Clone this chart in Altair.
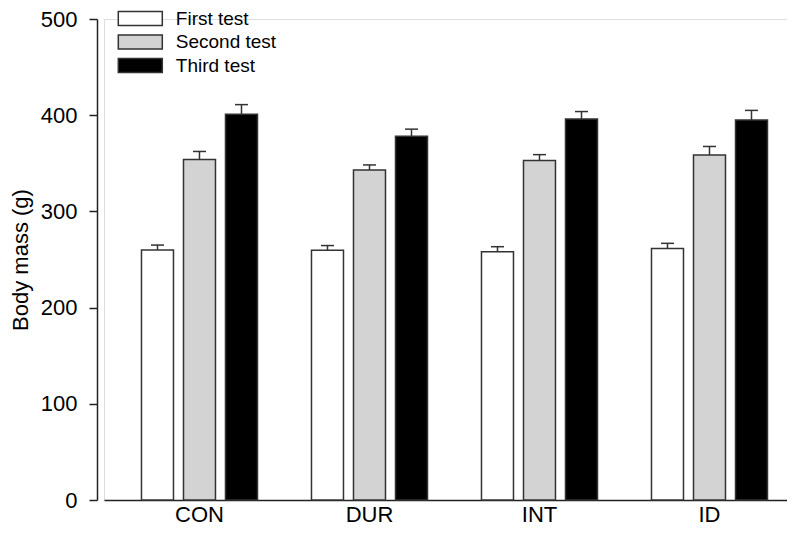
import altair as alt
import pandas as pd

groups = ["CON", "DUR", "INT", "ID"]
tests = ["First test", "Second test", "Third test"]
first_mean = [260, 259.5, 258, 261.5]
second_mean = [354, 343, 353, 358.5]
third_mean = [401, 378, 396, 395]
first_se = [5, 5, 5.3, 5.3]
second_se = [8.3, 5.3, 6, 9]
third_se = [10, 7.5, 7.8, 10]
fill_colors = ["#ffffff", "#d3d3d3", "#000000"]
y_ticks = [0, 100, 200, 300, 400, 500]

rows = []
for t, means, ses in zip(tests, [first_mean, second_mean, third_mean],
                         [first_se, second_se, third_se]):
    for g, m, s in zip(groups, means, ses):
        rows.append({"group": g, "test": t, "mass": m, "top": m + s})
df = pd.DataFrame(rows)

FONT = "Liberation Sans"
INK = "#333333"

x = alt.X(
    "group:N", sort=groups,
    scale=alt.Scale(paddingInner=0.2, paddingOuter=0.1088, align=0.743),
    axis=alt.Axis(title=None, ticks=False, labelAngle=0, labelFontSize=22,
                  labelPadding=4, domainColor="#222222", domainWidth=1.5,
                  labelColor="#000000", labelFont=FONT),
)
xo = alt.XOffset("test:N", sort=tests,
                 scale=alt.Scale(paddingInner=0.2381, paddingOuter=0.238))
y_scale = alt.Scale(domain=[0, 500], nice=False)

bars = alt.Chart(df).mark_bar(stroke=INK, strokeWidth=1.5).encode(
    x=x,
    xOffset=xo,
    y=alt.Y("mass:Q", scale=y_scale,
            axis=alt.Axis(title="Body mass (g)", values=y_ticks, grid=False,
                          offset=7, tickSize=8, tickWidth=1.5,
                          tickColor="#222222", domainColor="#222222",
                          domainWidth=1.5, labelFontSize=22, labelPadding=12,
                          labelColor="#000000", labelFont=FONT,
                          titleFontSize=22, titleFont=FONT,
                          titleFontWeight="normal", titleColor="#000000",
                          titlePadding=8)),
    color=alt.Color(
        "test:N", sort=tests,
        scale=alt.Scale(domain=tests, range=fill_colors),
        legend=alt.Legend(
            title=None, orient="none", legendX=14.3, legendY=-10,
            symbolType="M-3.1429,-1H3.1429V1H-3.1429Z", symbolSize=196,
            symbolStrokeColor=INK, symbolStrokeWidth=1.5, symbolOpacity=1,
            symbolOffset=12.5, labelOffset=26, labelFontSize=19,
            labelFont=FONT, labelColor="#000000", rowPadding=2.5, padding=0,
        ),
    ),
)

whisker = alt.Chart(df).mark_rule(color=INK, strokeWidth=1.5).encode(
    x=x, xOffset=xo, y=alt.Y("mass:Q", scale=y_scale), y2="top:Q"
)
cap = alt.Chart(df).mark_tick(color=INK, size=13, thickness=1.5,
                              opacity=1).encode(
    x=x, xOffset=xo, y=alt.Y("top:Q", scale=y_scale)
)

chart = alt.layer(bars, whisker, cap).properties(
    width=683, height=481,
    autosize=alt.AutoSizeParams(type="none"),
    padding={"left": 96, "top": 11, "right": 0, "bottom": 29},
).configure_view(stroke=None).configure(font=FONT)

chart.save("out.html", embed_options={"renderer": "svg", "actions": False})
